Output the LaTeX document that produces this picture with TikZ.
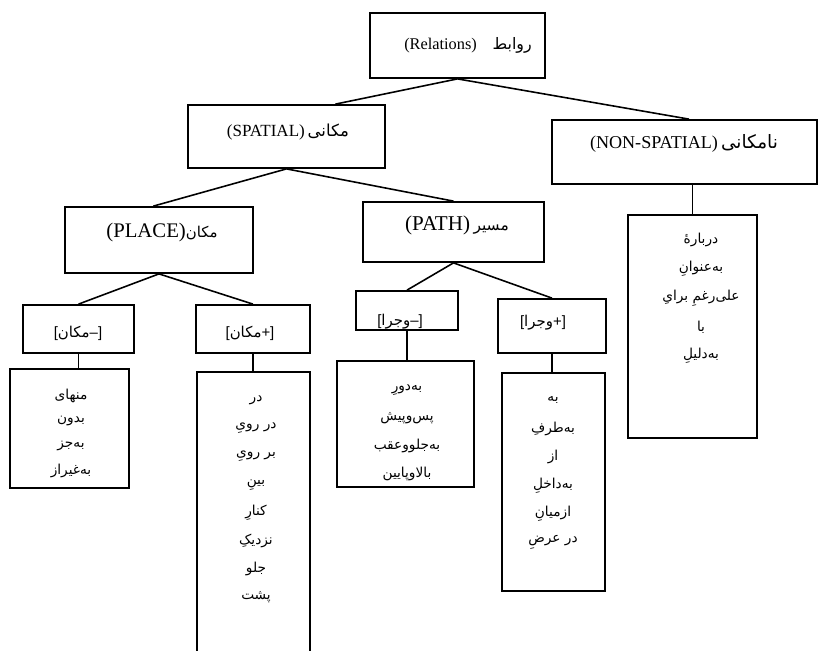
\documentclass[tikz,border=0pt]{standalone}
\usepackage{fontspec}
\setmainfont{Liberation Serif}
\newfontfamily\arfont[Script=Arabic]{DejaVu Sans}
\newfontfamily\tagfont{Liberation Sans}
\TeXXeTstate=1
\usetikzlibrary{fit,calc}
\newcommand\AR[1]{{\arfont\beginR #1\endR}}
\newcommand\ARs[2]{\hbox{\arfont\fontsize{#1}{#1}\selectfont #2}}
\newcommand\tagtxt[2]{\hbox{[}\hbox{\arfont #2}\hbox{#1]}}
\begin{document}
\begin{tikzpicture}[x=0.02cm,y=-0.02cm,
  box/.style={draw, line width=1pt, inner sep=0pt},
  conn/.style={line width=0.9pt},
  toplbl/.style={inner sep=0pt},
  taglbl/.style={font=\tagfont\fontsize{8.5}{10}\selectfont, inner sep=0pt},
  itemlbl/.style={font=\arfont\fontsize{7.8}{9}\selectfont, inner sep=0pt}]
\clip (0,0) rectangle (819,650);
% level boxes
\node[box, fit={(370,13) (545,78)}] (rel) {};
\node[box, fit={(188,105) (385,168)}] (sp) {};
\node[box, fit={(552,120) (817,184)}] (ns) {};
\node[box, fit={(65,207) (253,273)}] (pl) {};
\node[box, fit={(363,202) (544,262)}] (pa) {};
\node[box, fit={(23,305) (134,353)}] (mm) {};
\node[box, fit={(196,305) (310,353)}] (pm) {};
\node[box, fit={(356,291) (458,330)}] (mv) {};
\node[box, fit={(498,299) (606,353)}] (pv) {};
% list boxes
\node[box, fit={(628,215) (757,438)}] (nsl) {};
\node[box, fit={(10,369) (129,488)}] (mml) {};
\node[box, fit={(197,372) (310,665)}] (pml) {};
\node[box, fit={(337,361) (474,487)}] (mvl) {};
\node[box, fit={(502,373) (605,591)}] (pvl) {};
% labels
\node[toplbl, font=\fontsize{9.3}{11}\selectfont] (relT) at (468,45) {(Relations)\hspace{9pt}\ARs{9}{روابط}};
\node[toplbl, font=\fontsize{9.7}{11}\selectfont] (spT) at (288,132) {(SPATIAL)\,\ARs{9.4}{مکانی}};
\node[toplbl, font=\fontsize{10.3}{12}\selectfont] (nsT) at (684,143) {(NON-SPATIAL)\,\ARs{10.5}{نامکانی}};
\node[toplbl, font=\fontsize{11.8}{13}\selectfont] (plT) at (162,233) {(PLACE)\ARs{8.5}{مکان}};
\node[toplbl, font=\fontsize{12}{13}\selectfont] (paT) at (457,225) {(PATH)\,\ARs{8.8}{مسیر}};
\node[taglbl] (mmT) at (78,333) {\tagtxt{–}{مکان}};
\node[taglbl] (pmT) at (250,333) {\tagtxt{+}{مکان}};
\node[taglbl] (mvT) at (400,322) {\tagtxt{–}{وجرا}};
\node[taglbl] (pvT) at (543,323) {\tagtxt{+}{وجرا}};
% lists
\foreach \t [count=\i] in {درباره^^^^0654,به^^^^200cعنوانِ,علی^^^^200cرغمِ برایِ,با,به^^^^200cدلیلِ}
  \node[itemlbl] (nsl-\i) at (701,{240+29*(\i-1)}) {\AR{\t}};
\foreach \t [count=\i] in {منهای,بدون,به^^^^200cجز,به^^^^200cغیراز}
  \node[itemlbl] (mml-\i) at (71,{396+25*(\i-1)}) {\AR{\t}};
\foreach \t [count=\i] in {در,در رویِ,بر رویِ,بینِ,کنارِ,نزدیکِ,جلو,پشت}
  \node[itemlbl] (pml-\i) at (256,{400+28.2*(\i-1)}) {\AR{\t}};
\foreach \t [count=\i] in {به^^^^200cدورِ,پس^^^^200cوپیش,به^^^^200cجلووعقب,بالاوپایین}
  \node[itemlbl] (mvl-\i) at (407,{390+28*(\i-1)}) {\AR{\t}};
\foreach \t [count=\i] in {به,به^^^^200cطرفِ,از,به^^^^200cداخلِ,ازمیانِ,در عرضِ}
  \node[itemlbl] (pvl-\i) at (553,{400+28.5*(\i-1)}) {\AR{\t}};
% connectors
\draw[conn] (rel.south) -- ($(sp.north west)!0.746!(sp.north east)$);
\draw[conn] (rel.south) -- ($(ns.north west)!0.517!(ns.north east)$);
\draw[conn] (sp.south) -- ($(pl.north west)!0.47!(pl.north east)$);
\draw[conn] (sp.south) -- (pa.north);
\draw[conn] (pl.south) -- (mm.north);
\draw[conn] (pl.south) -- (pm.north);
\draw[conn] (pa.south) -- (mv.north);
\draw[conn] (pa.south) -- (pv.north);
\draw[conn] (ns.south -| nsl.north) -- (nsl.north);
\draw[conn] (mm.south) -- (mm.south |- mml.north);
\draw[conn] (pm.south) -- (pm.south |- pml.north);
\draw[conn] (mv.south) -- (mv.south |- mvl.north);
\draw[conn] (pv.south) -- (pv.south |- pvl.north);
\end{tikzpicture}
\end{document}
